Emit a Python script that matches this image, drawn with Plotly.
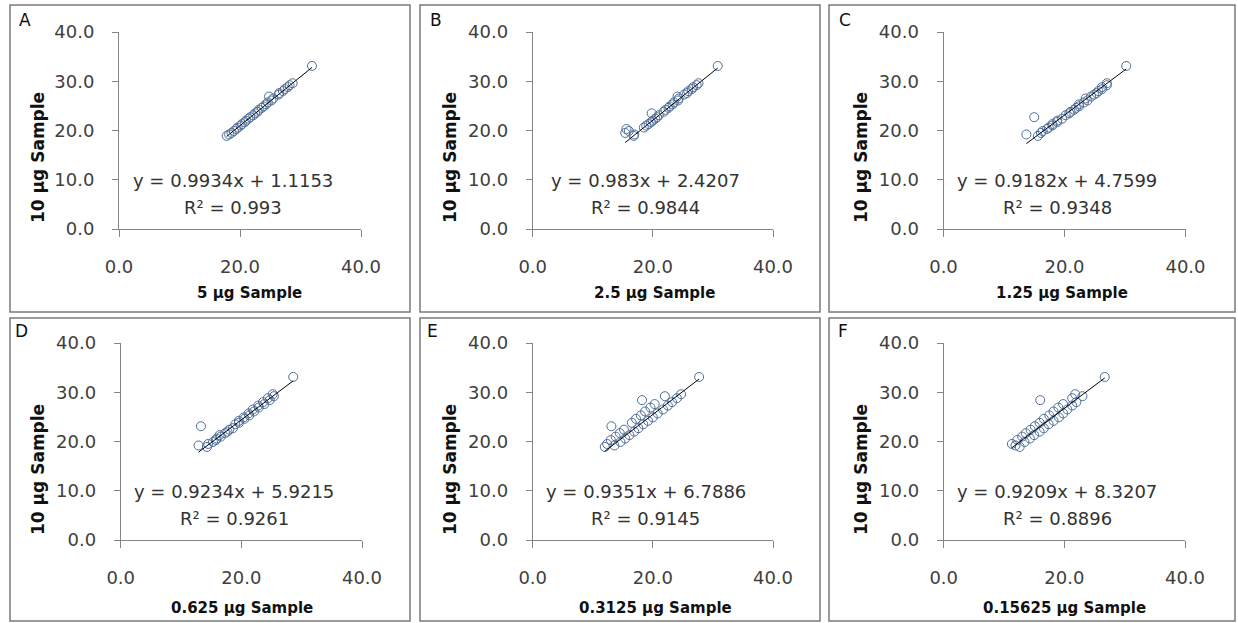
import plotly.graph_objects as go

W, H = 1238, 623

# Shared y values (10 µg sample Ct)
y10 = [18.9, 19.2, 19.5, 19.9, 20.3, 20.6, 21.0, 21.3, 21.7, 22.0, 22.4, 22.7, 23.1, 23.5, 23.8,
       24.2, 24.6, 24.9, 25.3, 25.7, 26.1, 26.5, 26.9, 27.3, 27.6, 28.0, 28.4, 28.8, 29.2, 29.6, 33.1]

xA = [17.8, 18.2, 18.6, 19.0, 19.4, 19.6, 20.1, 20.3, 20.8, 21.0, 21.4, 21.7, 22.2, 22.5, 22.9,
      23.1, 23.6, 23.9, 24.3, 24.6, 25.2, 25.5, 24.8, 26.4, 26.5, 27.1, 27.4, 27.9, 28.2, 28.7, 31.9]
xB = [16.8, 16.9, 15.4, 16.0, 15.6, 18.5, 18.9, 19.3, 19.7, 20.0, 20.4, 20.7, 21.0, 19.8, 21.8,
      22.1, 22.6, 22.8, 23.3, 23.5, 24.2, 24.3, 24.1, 25.2, 25.7, 25.9, 26.5, 26.7, 27.3, 27.6, 30.8]
xC = [15.6, 13.7, 16.1, 16.4, 17.1, 17.4, 18.0, 18.0, 18.8, 18.8, 19.6, 15.0, 20.2, 20.8, 21.0,
      21.6, 21.9, 22.4, 22.4, 23.2, 23.8, 23.5, 24.4, 24.9, 25.3, 25.6, 26.2, 26.2, 27.0, 27.0, 30.2]
xD = [14.3, 12.9, 14.5, 15.3, 15.8, 15.9, 16.6, 16.4, 17.3, 17.7, 18.0, 18.6, 13.3, 19.0, 19.6,
      19.6, 20.5, 20.4, 21.3, 21.2, 22.1, 21.9, 22.9, 22.8, 23.8, 23.6, 24.7, 24.4, 25.4, 25.2, 28.6]
xE = [12.0, 13.6, 12.4, 14.6, 13.0, 15.4, 13.8, 16.1, 14.5, 16.9, 15.2, 17.6, 13.1, 18.4, 16.5,
      19.2, 17.2, 20.0, 18.0, 20.8, 18.7, 21.7, 19.6, 22.5, 20.3, 23.2, 18.2, 24.0, 22.0, 24.7, 27.7]
xF = [12.6, 11.9, 11.3, 13.4, 12.2, 14.3, 13.0, 15.0, 13.6, 15.9, 14.4, 16.6, 15.1, 17.4, 15.9,
      18.2, 16.6, 19.1, 17.5, 19.8, 18.2, 20.5, 19.0, 21.3, 19.8, 22.0, 16.0, 21.3, 23.0, 21.8, 26.7]

panel_letters = ["A", "B", "C", "D", "E", "F"]
x_titles = ["5 µg Sample", "2.5 µg Sample", "1.25 µg Sample",
            "0.625 µg Sample", "0.3125 µg Sample", "0.15625 µg Sample"]
slopes = [0.9934, 0.983, 0.9182, 0.9234, 0.9351, 0.9209]
intercepts = [1.1153, 2.4207, 4.7599, 5.9215, 6.7886, 8.3207]
eq_text = ["y = 0.9934x + 1.1153", "y = 0.983x + 2.4207", "y = 0.9182x + 4.7599",
           "y = 0.9234x + 5.9215", "y = 0.9351x + 6.7886", "y = 0.9209x + 8.3207"]
r2_text = ["0.993", "0.9844", "0.9348", "0.9261", "0.9145", "0.8896"]
xs = [xA, xB, xC, xD, xE, xF]

# layout geometry in pixels
ax_left = [119, 532.7, 943.5, 120.7, 532.7, 943.7]
ax_right = [361, 773, 1185.5, 362, 773, 1185]
ax_top = [32, 32, 32, 343, 343, 343]
ax_bot = [229, 229, 229, 540, 540, 540]
boxes = [(10, 5, 410, 312), (420, 5, 820, 312), (829, 5, 1235, 312),
         (10, 318, 410, 621), (420, 318, 820, 621), (829, 318, 1235, 621)]
letter_pos = [(25, 20), (436, 20), (845, 20), (21, 331), (432, 331), (843, 331)]
ytitle_pos = [(38, 158), (450, 158), (861, 158), (38, 470), (450, 470), (861, 470)]
xtitle_pos = [(249, 293), (654, 293), (1062, 293), (242, 608), (655, 608), (1064, 608)]

def px(x):
    return x / W

def py(y):
    return 1 - y / H

FONT = "DejaVu Sans"
AXC = "#868686"

fig = go.Figure()
layout = dict(width=W, height=H, margin=dict(l=0, r=0, t=0, b=0, autoexpand=False),
              paper_bgcolor="white", plot_bgcolor="white", showlegend=False,
              font=dict(family=FONT, color="#333333"))
annotations = []
shapes = []

for i in range(6):
    n = "" if i == 0 else str(i + 1)
    xa, ya = "x" + n, "y" + n
    layout["xaxis" + n] = dict(
        domain=[px(ax_left[i]), px(ax_right[i])], anchor=ya, range=[0, 40],
        tickvals=[0, 20, 40], tickformat=".1f", showgrid=False, zeroline=False,
        showline=True, linecolor=AXC, linewidth=1, ticks="outside", ticklen=7,
        tickcolor=AXC, tickfont=dict(family=FONT, size=18, color="#404040"),
        ticklabelstandoff=14)
    layout["yaxis" + n] = dict(
        domain=[py(ax_bot[i]), py(ax_top[i])], anchor=xa, range=[0, 40],
        tickvals=[0, 10, 20, 30, 40], tickformat=".1f", showgrid=False, zeroline=False,
        showline=True, linecolor=AXC, linewidth=1, ticks="outside", ticklen=6,
        tickcolor=AXC, tickfont=dict(family=FONT, size=18, color="#404040"),
        ticklabelstandoff=14)

    fig.add_trace(go.Scatter(
        x=xs[i], y=y10, xaxis=xa, yaxis=ya, mode="markers",
        marker=dict(symbol="circle", size=9, color="rgba(255,255,255,0)",
                    line=dict(color="#4f6f9a", width=1)),
        cliponaxis=False))
    xmin, xmax = min(xs[i]), max(xs[i])
    fig.add_trace(go.Scatter(
        x=[xmin, xmax], y=[slopes[i] * xmin + intercepts[i], slopes[i] * xmax + intercepts[i]],
        xaxis=xa, yaxis=ya, mode="lines", line=dict(color="black", width=1)))

    annotations.append(dict(x=18.8, y=9.9, xref=xa, yref=ya, text=eq_text[i],
                            showarrow=False, xanchor="center", yanchor="middle",
                            font=dict(family=FONT, size=18, color="#333333")))
    annotations.append(dict(x=18.8, y=4.3, xref=xa, yref=ya,
                            text="R² = " + r2_text[i],
                            showarrow=False, xanchor="center", yanchor="middle",
                            font=dict(family=FONT, size=18, color="#333333")))
    lx, ly = letter_pos[i]
    annotations.append(dict(x=px(lx), y=py(ly), xref="paper", yref="paper",
                            text=panel_letters[i], showarrow=False,
                            xanchor="center", yanchor="middle",
                            font=dict(family=FONT, size=17, color="#111111")))
    tx, ty = ytitle_pos[i]
    annotations.append(dict(x=px(tx), y=py(ty), xref="paper", yref="paper",
                            text="<b>10 µg Sample</b>", textangle=-90, showarrow=False,
                            xanchor="center", yanchor="middle",
                            font=dict(family=FONT, size=17, color="#111111")))
    tx, ty = xtitle_pos[i]
    annotations.append(dict(x=px(tx), y=py(ty), xref="paper", yref="paper",
                            text="<b>" + x_titles[i] + "</b>", showarrow=False,
                            xanchor="center", yanchor="middle",
                            font=dict(family=FONT, size=15, color="#111111")))
    x0, y0, x1, y1 = boxes[i]
    shapes.append(dict(type="rect", xref="paper", yref="paper",
                       x0=px(x0), x1=px(x1), y0=py(y1), y1=py(y0),
                       line=dict(color="#7a7a7a", width=1.5)))

layout["annotations"] = annotations
layout["shapes"] = shapes
fig.update_layout(**layout)
fig.write_html(
    "out.html",
    post_script="document.body.style.margin='0px';document.body.style.overflow='hidden';",
)
